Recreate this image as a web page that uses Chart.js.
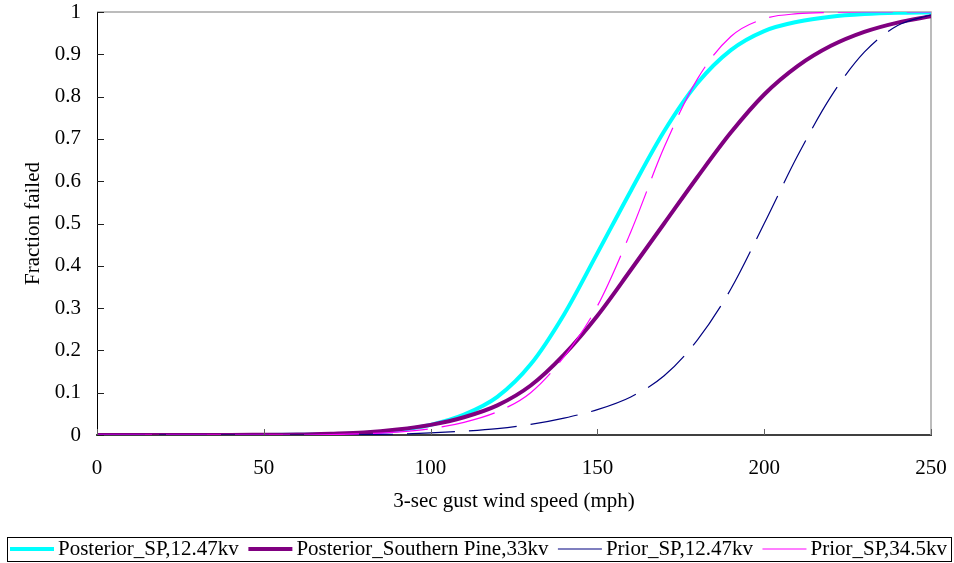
<!DOCTYPE html>
<html><head><meta charset="utf-8">
<script src="https://cdn.jsdelivr.net/npm/chart.js@4/dist/chart.umd.min.js"></script>
<style>html,body{margin:0;padding:0;background:#fff;}canvas{display:block;}</style>
</head><body>
<canvas id="c" width="954" height="563"></canvas>
<script>
// ---- data ----
const windSpeeds = [0,10,20,30,40,50,60,70,80,90,100,110,120,130,140,150,160,170,180,190,200,210,220,230,240,250];
const posteriorSP1247 = [0,0,0,0,0,0,0.0005,0.0015,0.004,0.011,0.024,0.048,0.09,0.167,0.285,0.43,0.577,0.718,0.832,0.91,0.955,0.977,0.989,0.995,0.998,0.999];
const posteriorSouthernPine33 = [0,0,0,0,0,0.0005,0.001,0.003,0.006,0.013,0.024,0.042,0.07,0.117,0.19,0.282,0.39,0.5,0.61,0.715,0.805,0.872,0.92,0.953,0.975,0.99];
const priorSP1247 = [0,0,0,0,0,0,0,0,0.001,0.002,0.005,0.009,0.015,0.025,0.04,0.06,0.09,0.14,0.225,0.345,0.5,0.66,0.8,0.905,0.968,0.993];
const priorSP345 = [0,0,0,0,0,0,0,0.001,0.003,0.007,0.015,0.03,0.055,0.1,0.185,0.305,0.48,0.68,0.842,0.942,0.984,0.996,0.999,1,1,1];
const seriesLabels = ['Posterior_SP,12.47kv','Posterior_Southern Pine,33kv','Prior_SP,12.47kv','Prior_SP,34.5kv'];
const xTickValues = [0,50,100,150,200,250];
const yTickValues = [0,0.1,0.2,0.3,0.4,0.5,0.6,0.7,0.8,0.9,1];
const xTitle = '3-sec gust wind speed (mph)';
const yTitle = 'Fraction failed';

const FONT = "'Liberation Serif','Times New Roman',serif";
Chart.defaults.font.family = FONT;
Chart.defaults.font.size = 21;
Chart.defaults.color = '#000';

const pts = arr => windSpeeds.map((x,i)=>({x:x, y:arr[i]}));

const styles = [
  {color:'#00FFFF', width:4, dash:[], order:3},
  {color:'#800080', width:4, dash:[], order:2},
  {color:'#000080', width:1.2, dash:[48,14], order:1},
  {color:'#FF00FF', width:1.2, dash:[55,14], order:0}
];
const seriesData = [posteriorSP1247, posteriorSouthernPine33, priorSP1247, priorSP345];

const datasets = seriesData.map((arr,i)=>({
  label: seriesLabels[i],
  data: pts(arr),
  borderColor: styles[i].color,
  backgroundColor: styles[i].color,
  borderWidth: styles[i].width,
  borderDash: styles[i].dash,
  borderCapStyle: 'butt',
  pointRadius: 0,
  pointHoverRadius: 0,
  fill: false,
  cubicInterpolationMode: 'monotone',
  order: styles[i].order
}));

const frame = {
  id: 'frame',
  beforeDatasetsDraw(chart) {
    const {ctx, chartArea: a} = chart;
    ctx.save();
    ctx.strokeStyle = '#a6a6a6';
    ctx.lineWidth = 1.5;
    ctx.beginPath();
    ctx.moveTo(a.left, a.top); ctx.lineTo(a.right, a.top); ctx.lineTo(a.right, a.bottom);
    ctx.stroke();
    ctx.restore();
  },
  afterDraw(chart) {
    const {ctx, chartArea: a, scales} = chart;
    ctx.save();
    // inside tick marks
    ctx.lineWidth = 1;
    ctx.strokeStyle = '#606060';
    scales.x.ticks.forEach(t => {
      const px = Math.round(scales.x.getPixelForValue(t.value)) + 0.5;
      ctx.beginPath(); ctx.moveTo(px, a.bottom); ctx.lineTo(px, a.bottom - 6); ctx.stroke();
    });
    ctx.strokeStyle = '#202020';
    scales.y.ticks.forEach(t => {
      const py = Math.round(scales.y.getPixelForValue(t.value)) + 0.5;
      ctx.beginPath(); ctx.moveTo(a.left, py); ctx.lineTo(a.left + 7, py); ctx.stroke();
    });
    // legend box
    const boxL = 7.5, boxR = 951.5, boxT = 537.5, boxB = 561.5;
    ctx.strokeStyle = '#000';
    ctx.lineWidth = 1;
    ctx.strokeRect(boxL, boxT, boxR - boxL, boxB - boxT);
    const cy = 549, sample = 44, gapText = 4, first = 10, last = 947;
    ctx.font = '21px ' + FONT;
    ctx.textBaseline = 'middle';
    ctx.textAlign = 'left';
    const dsets = chart.data.datasets;
    const widths = dsets.map(ds => ctx.measureText(ds.label).width);
    const total = widths.reduce((s,w)=>s + w + sample + gapText, 0);
    const between = (last - first - total) / (dsets.length - 1);
    let sx = first;
    dsets.forEach((ds, i) => {
      ctx.beginPath();
      ctx.strokeStyle = ds.borderColor;
      ctx.lineWidth = ds.borderWidth;
      ctx.setLineDash([]);
      ctx.moveTo(sx, cy); ctx.lineTo(sx + sample, cy); ctx.stroke();
      ctx.fillStyle = '#000';
      ctx.fillText(ds.label, sx + sample + gapText, cy);
      sx += sample + gapText + widths[i] + between;
    });
    ctx.restore();
  }
};

const noPad = s => { s.paddingTop = 0; s.paddingBottom = 0; s.paddingLeft = 0; s.paddingRight = 0; };

new Chart(document.getElementById('c'), {
  type: 'line',
  data: { datasets },
  options: {
    responsive: false,
    devicePixelRatio: 1,
    animation: false,
    events: [],
    layout: { padding: { top: 12, right: 23, left: 0, bottom: 0 } },
    plugins: { legend: { display: false }, tooltip: { enabled: false } },
    scales: {
      x: {
        type: 'linear', min: 0, max: 250,
        afterBuildTicks: s => { s.ticks = xTickValues.map(v => ({value: v})); },
        afterFit: s => { s.height = 128; noPad(s); },
        grid: { display: false, drawTicks: false },
        border: { display: true, color: '#404040', width: 2 },
        ticks: { padding: 21, color: '#000', font: { size: 21 }, maxRotation: 0 },
        title: { display: true, text: xTitle, color: '#000', font: { size: 21 }, padding: { top: 0, bottom: 49 } }
      },
      y: {
        type: 'linear', min: 0, max: 1,
        afterBuildTicks: s => { s.ticks = yTickValues.map(v => ({value: v})); },
        afterFit: s => { s.width = 97; noPad(s); },
        grid: { display: false, drawTicks: false },
        border: { display: true, color: '#000', width: 1 },
        ticks: { padding: 16, color: '#000', font: { size: 21 }, callback: v => String(Math.round(v*10)/10) },
        title: { display: true, text: yTitle, color: '#000', font: { size: 21 }, padding: { top: 21, bottom: 0 } }
      }
    }
  },
  plugins: [frame]
});
</script>
</body></html>
